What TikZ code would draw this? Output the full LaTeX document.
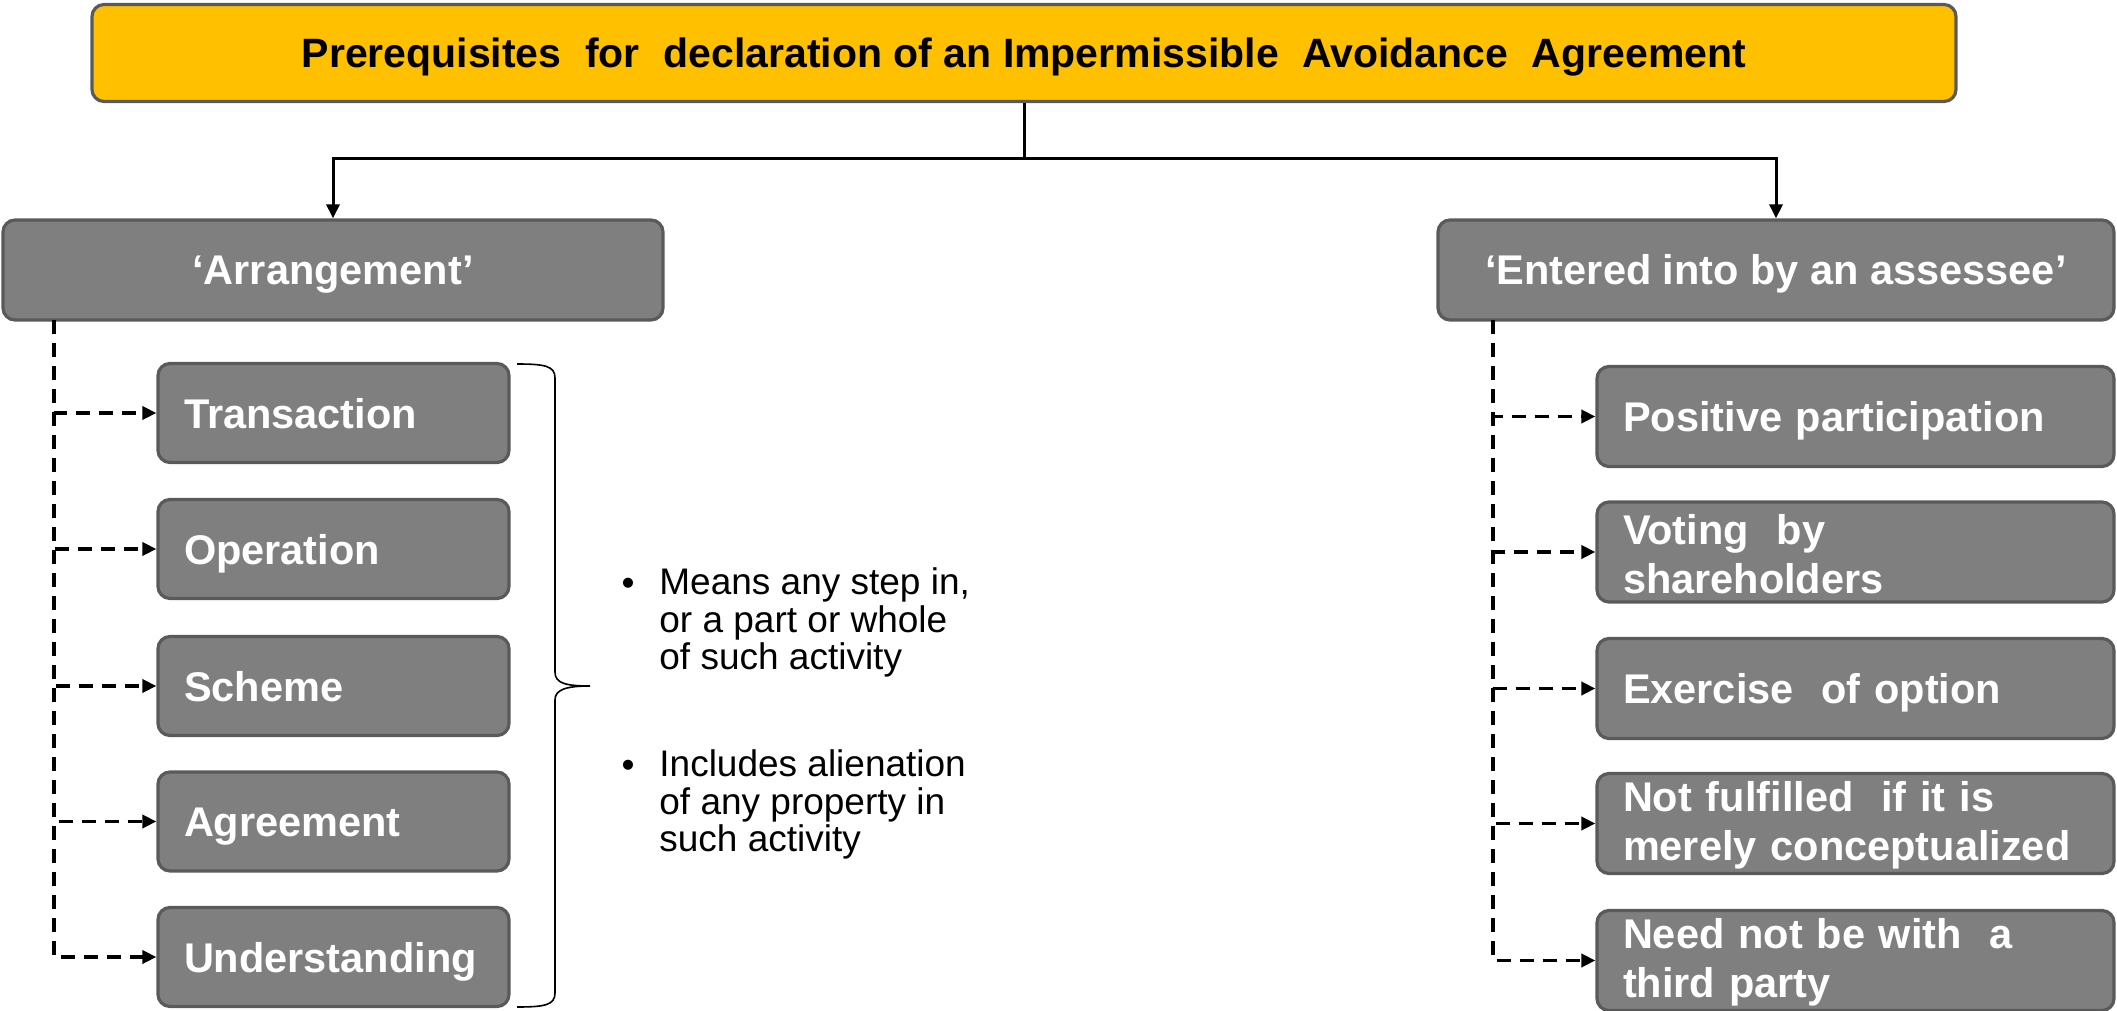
\documentclass[tikz,border=0pt]{standalone}
\usepackage{fontspec}
\setmainfont{Liberation Sans}
\usetikzlibrary{arrows.meta}
\definecolor{boxgray}{HTML}{7F7F7F}
\definecolor{edgegray}{HTML}{5A5A5A}
\definecolor{gold}{HTML}{FFC000}

\begin{document}
\begin{tikzpicture}[x=0.5pt,y=-0.5pt,
  oneline/.style={text height=15pt, text depth=0pt},
  headbox/.style={rounded corners=6pt, draw=edgegray, line width=1.6pt, fill=gold,
    minimum width=932pt, minimum height=48.5pt, inner sep=0pt, text=black, oneline,
    font=\fontsize{20.5}{24}\selectfont\bfseries},
  groupbox/.style={rounded corners=6pt, draw=edgegray, line width=1.6pt, fill=boxgray,
    minimum height=50pt, inner sep=0pt, text=white,
    font=\fontsize{20.75}{24.3}\selectfont\bfseries},
  leftitem/.style={groupbox, minimum height=49.5pt, align=left, text width=149.5pt, inner xsep=13pt, oneline},
  rightitem/.style={groupbox, align=left, text width=232.5pt, inner xsep=13pt},
  solidarrow/.style={line width=1.5pt, -{Triangle[length=7pt,width=6.5pt]}},
  dasharrow/.style={line width=1.8pt, dash pattern=on 7pt off 4.5pt, -{Triangle[length=7pt,width=6.5pt]}},
  note/.style={inner sep=0pt, align=left, font=\fontsize{18.5}{18.9}\selectfont}
]
\useasboundingbox (0,0) rectangle (2117,1011);

% title
\node[headbox] (top) at (1024,53) {Prerequisites\hspace{0.3em} for\hspace{0.3em} declaration of an Impermissible\hspace{0.3em} Avoidance\hspace{0.3em} Agreement};

% the two conditions
\node[groupbox, oneline, minimum width=330pt] (arr) at (333,270) {‘Arrangement’};
\node[groupbox, oneline, minimum width=338pt] (ent) at (1776,270) {‘Entered into by an assessee’};

% left column
\node[leftitem] (trans) at (333.5,413) {Transaction};
\node[leftitem] (oper)  at (333.5,549) {Operation};
\node[leftitem] (schm)  at (333.5,686) {Scheme};
\node[leftitem] (agr)   at (333.5,821.5) {Agreement};
\node[leftitem] (und)   at (333.5,957) {Understanding};

% right column
\node[rightitem, oneline] (pos)  at (1855.5,416.5) {Positive participation};
\node[rightitem] (vote) at (1855.5,552) {\strut Voting\ \ by\\shareholders};
\node[rightitem, oneline] (exer) at (1855.5,688.5) {Exercise\ \ of option};
\node[rightitem] (notf) at (1855.5,823.5) {\strut Not fulfilled\ \ if it is\\merely conceptualized};
\node[rightitem] (need) at (1855.5,960.5) {\strut Need not be with\ \ a\\third party};

% split from the title
\coordinate (split) at (1024,159);
\draw[line width=1.5pt] (top.south) -- (split);
\draw[solidarrow] (split) -| (arr.north);
\draw[solidarrow] (split) -| (ent.north);

% dashed trunks
\coordinate (ltrunk) at (54,320);
\coordinate (rtrunk) at (1493,320);
\foreach \n in {trans,oper,schm,agr,und}
  \draw[dasharrow] (ltrunk) |- (\n.west);
\foreach \n in {pos,vote,exer,notf,need}
  \draw[dasharrow] (rtrunk) |- (\n.west);

% brace grouping the left column
\draw[line width=0.8pt]
  (517,364) .. controls (545,364) and (555,366) .. (555,378)
  -- (555,672) .. controls (555,683) and (565,686) .. (590,686)
  .. controls (565,686) and (555,690) .. (555,700)
  -- (555,993) .. controls (555,1005) and (545,1007) .. (517,1007);

% explanatory notes
\node[note, anchor=base] (bul1) at (628,595) {•};
\node[note, anchor=north west] (txt1) at (659,567) {Means any step in,\\or a part or whole\\of such activity};
\node[note, anchor=base] (bul2) at (628,777) {•};
\node[note, anchor=north west] (txt2) at (659,749) {Includes alienation\\of any property in\\such activity};
\end{tikzpicture}
\end{document}
